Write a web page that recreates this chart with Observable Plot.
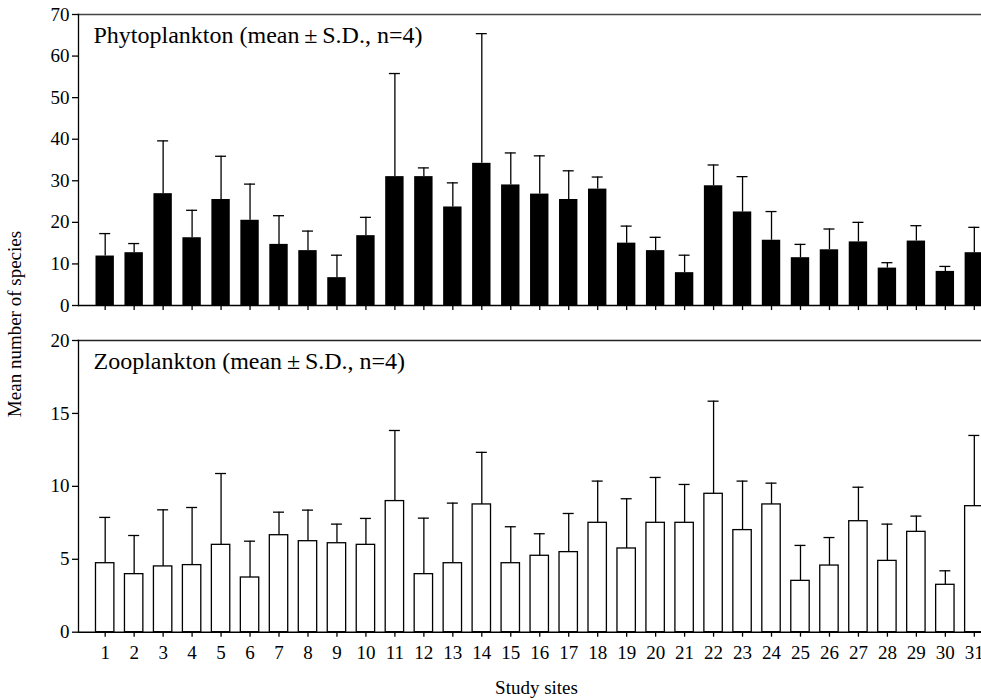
<!DOCTYPE html>
<html>
<head>
<meta charset="utf-8">
<script src="https://cdn.jsdelivr.net/npm/d3@7"></script>
<script src="https://cdn.jsdelivr.net/npm/@observablehq/plot@0.6"></script>
<style>
  html, body { margin: 0; padding: 0; background: #fff; overflow: hidden; }
  #wrap { position: relative; width: 981px; height: 700px; overflow: hidden; font-family: "Liberation Serif", "Times New Roman", serif; color: #000; }
  #top, #bottom { position: absolute; left: 0; }
  #top { top: 0; }
  #bottom { top: 320px; }
  #ylab { position: absolute; left: 15px; top: 324px; transform: translate(-50%, -50%) rotate(-90deg); white-space: nowrap; font-size: 19px; }
  svg text { font-family: "Liberation Serif", "Times New Roman", serif; font-variant-numeric: normal; }
</style>
</head>
<body>
<div id="wrap">
  <div id="top"></div>
  <div id="bottom"></div>
  <div id="ylab">Mean number of species</div>
</div>
<script>
const sites = d3.range(1, 32);
const phytoMean = [11.9, 12.7, 26.9, 16.3, 25.5, 20.5, 14.7, 13.2, 6.7, 16.8, 31.0, 31.0, 23.7, 34.2, 29.0, 26.8, 25.5, 28.0, 15.0, 13.2, 7.9, 28.8, 22.5, 15.7, 11.5, 13.4, 15.3, 9.0, 15.5, 8.2, 12.7];
const phytoSD   = [5.4, 2.2, 12.7, 6.6, 10.4, 8.7, 6.9, 4.7, 5.4, 4.4, 24.8, 2.1, 5.8, 31.2, 7.7, 9.2, 6.9, 2.9, 4.1, 3.2, 4.2, 5.0, 8.5, 6.9, 3.2, 5.0, 4.7, 1.3, 3.7, 1.2, 6.1];
const zooMean = [4.73, 3.98, 4.51, 4.60, 5.99, 3.75, 6.65, 6.24, 6.10, 5.99, 8.99, 3.98, 4.73, 8.76, 4.73, 5.24, 5.49, 7.50, 5.74, 7.50, 7.50, 9.49, 7.00, 8.76, 3.52, 4.57, 7.61, 4.89, 6.88, 3.25, 8.64];
const zooSD   = [3.14, 2.65, 3.88, 3.95, 4.89, 2.49, 1.58, 2.13, 1.31, 1.81, 4.84, 3.84, 4.12, 3.57, 2.50, 1.51, 2.65, 2.86, 3.41, 3.11, 2.63, 6.35, 3.36, 1.46, 2.43, 1.92, 2.33, 2.52, 1.08, 0.96, 4.85];
const phytoTicks = [0, 10, 20, 30, 40, 50, 60, 70];
const zooTicks = [0, 5, 10, 15, 20];
const phytoTitle = "Phytoplankton (mean\u2009±\u2009S.D., n=4)";
const zooTitle = "Zooplankton (mean\u2009±\u2009S.D., n=4)";
const xLabel = "Study sites";

const phyto = sites.map((s, i) => ({site: s, mean: phytoMean[i], upper: phytoMean[i] + phytoSD[i]}));
const zoo = sites.map((s, i) => ({site: s, mean: zooMean[i], upper: zooMean[i] + zooSD[i]}));

const serif = "Liberation Serif, Times New Roman, serif";
const xScale = {type: "band", domain: sites, range: [90.2, 988.3], paddingInner: 0.365, paddingOuter: 0.1825, round: false};
const style = {fontFamily: serif, fontSize: "19px", color: "#000", background: "#fff", overflow: "visible"};

function panel(data, ticks, title, opts) {
  return Plot.plot({
    width: 981,
    height: opts.height,
    marginTop: opts.marginTop,
    marginBottom: opts.marginBottom,
    marginLeft: 78,
    marginRight: 0,
    style,
    x: xScale,
    y: {domain: [ticks[0], ticks[ticks.length - 1]]},
    marks: [
      Plot.ruleX(data, {x: "site", y1: "mean", y2: "upper", stroke: "#000", strokeWidth: 1.3}),
      Plot.tickY(data, {x: "site", y: "upper", stroke: "#000", strokeWidth: 1.3, insetLeft: 3.7, insetRight: 3.7}),
      Plot.barY(data, {x: "site", y: "mean", fill: opts.fill, stroke: "#000", strokeWidth: opts.fill === "#000" ? 0 : 1.3}),
      Plot.frame({anchor: "top", stroke: opts.topColor, strokeWidth: 1.4}),
      Plot.frame({anchor: "left", stroke: "#000", strokeWidth: 1.3}),
      Plot.ruleY([0], {stroke: "#000", strokeWidth: 1.4}),
      Plot.axisY({ticks, tickSize: 6, tickPadding: 3, label: null, fontSize: 19, fontFamily: serif, fontVariant: "normal", strokeWidth: 1.3}),
      Plot.axisX({tickSize: 5, tickPadding: 8.5, fontSize: 19, fontFamily: serif, fontVariant: "normal", strokeWidth: 1.3,
        tickFormat: opts.showX ? (d) => String(d) : () => "", label: null}),
      opts.showX ? Plot.text([xLabel], {frameAnchor: "bottom", dx: 6.5, dy: 55.3, lineAnchor: "middle", fontSize: 19, fontFamily: serif}) : null,
      Plot.text([title], {frameAnchor: "top-left", dx: 15, dy: 11.5, lineAnchor: "top", textAnchor: "start", fontSize: 24, fontFamily: serif})
    ]
  });
}

document.getElementById("top").appendChild(panel(phyto, phytoTicks, phytoTitle,
  {height: 320, marginTop: 14, marginBottom: 15, fill: "#000", topColor: "#444", showX: false}));
document.getElementById("bottom").appendChild(panel(zoo, zooTicks, zooTitle,
  {height: 380, marginTop: 20, marginBottom: 68.3, fill: "#fff", topColor: "#222", showX: true}));
</script>
</body>
</html>
